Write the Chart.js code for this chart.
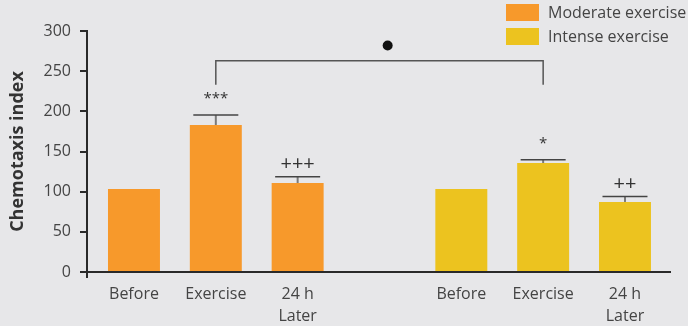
<!DOCTYPE html>
<html>
<head>
<meta charset="utf-8">
<script src="https://cdn.jsdelivr.net/npm/chart.js@4"></script>
<style>
  html, body { margin: 0; padding: 0; background: #E7E7E9; }
  #wrap { width: 688px; height: 326px; position: relative; }
</style>
</head>
<body>
<div id="wrap"><canvas id="c" width="688" height="326"></canvas></div>
<script>
// Time points for each exercise group (slot 3 is the gap between groups)
const categories = [['Before'], ['Exercise'], ['24 h', 'Later'], [''], ['Before'], ['Exercise'], ['24 h', 'Later']];
const moderateSlots = [0, 1, 2];
const intenseSlots = [4, 5, 6];

// Chemotaxis index (mean) and upper error (SEM)
const moderateValues = [103.3, 183, 110.8];
const moderateErrors = [0, 12.4, 7.8];
const intenseValues = [103.3, 135.7, 87.2];
const intenseErrors = [0, 4.1, 6.7];

// Significance marks above each bar
const moderateMarks = ['', '***', '+++'];
const intenseMarks = ['', '*', '++'];

// Between-group comparison bracket (Exercise vs Exercise)
const bracketFrom = 1, bracketTo = 5, bracketTop = 263, bracketFoot = 233;
const bracketMarker = { x: 3.1, y: 282 };

const yTicks = [0, 50, 100, 150, 200, 250, 300];

const ORANGE = '#F7992B';
const YELLOW = '#ECC31F';
const TEXT = '#444444';
const FONT = "'Open Sans', 'Noto Sans', sans-serif";

const toPoints = (slots, vals) => slots.map((s, i) => ({ x: s, y: vals[i] }));

const annotations = {
  id: 'annotations',
  afterDatasetsDraw(chart) {
    const { ctx, chartArea, scales: { x, y } } = chart;
    ctx.save();

    // small extension of the value axis below the baseline
    ctx.strokeStyle = '#2a2a2a';
    ctx.lineWidth = 2;
    ctx.beginPath();
    ctx.moveTo(chartArea.left, chartArea.bottom);
    ctx.lineTo(chartArea.left, chartArea.bottom + 6);
    ctx.stroke();

    const groups = [
      [moderateSlots, moderateValues, moderateErrors, moderateMarks],
      [intenseSlots, intenseValues, intenseErrors, intenseMarks]
    ];
    groups.forEach(([slots, vals, errs, marks]) => {
      slots.forEach((s, i) => {
        const cx = x.getPixelForValue(s);
        const top = y.getPixelForValue(vals[i]);
        const capY = y.getPixelForValue(vals[i] + errs[i]);
        if (errs[i] > 0) {
          ctx.strokeStyle = '#7a7a7a';
          ctx.lineWidth = 2;
          ctx.beginPath();
          ctx.moveTo(cx, top);
          ctx.lineTo(cx, capY);
          ctx.stroke();
          ctx.strokeStyle = '#444';
          ctx.lineWidth = 1.6;
          ctx.beginPath();
          ctx.moveTo(cx - 22.5, capY);
          ctx.lineTo(cx + 22.5, capY);
          ctx.stroke();
        }
        if (marks[i]) {
          const isStar = marks[i][0] === '*';
          ctx.fillStyle = '#333';
          ctx.font = (isStar ? 15 : 20) + 'px ' + FONT;
          ctx.textAlign = 'center';
          ctx.textBaseline = 'middle';
          ctx.fillText(marks[i], cx, capY - (isStar ? 16 : 12));
        }
      });
    });

    // comparison bracket
    const x1 = x.getPixelForValue(bracketFrom);
    const x2 = x.getPixelForValue(bracketTo);
    const yt = y.getPixelForValue(bracketTop);
    const yf = y.getPixelForValue(bracketFoot);
    ctx.strokeStyle = '#555';
    ctx.lineWidth = 1.5;
    ctx.beginPath();
    ctx.moveTo(x1, yf);
    ctx.lineTo(x1, yt);
    ctx.lineTo(x2, yt);
    ctx.lineTo(x2, yf);
    ctx.stroke();
    ctx.fillStyle = '#111';
    ctx.beginPath();
    ctx.arc(x.getPixelForValue(bracketMarker.x), y.getPixelForValue(bracketMarker.y), 5, 0, Math.PI * 2);
    ctx.fill();

    // legend
    ctx.font = '16px ' + FONT;
    ctx.textAlign = 'left';
    ctx.textBaseline = 'middle';
    chart.data.datasets.forEach((ds, i) => {
      const top = 4 + i * 24;
      ctx.fillStyle = ds.backgroundColor;
      ctx.fillRect(506, top, 33, 17);
      ctx.fillStyle = TEXT;
      ctx.fillText(ds.label, 548, top + 9);
    });
    ctx.restore();
  }
};

new Chart(document.getElementById('c'), {
  type: 'bar',
  data: {
    datasets: [
      { label: 'Moderate exercise', data: toPoints(moderateSlots, moderateValues), backgroundColor: ORANGE, grouped: false },
      { label: 'Intense exercise', data: toPoints(intenseSlots, intenseValues), backgroundColor: YELLOW, grouped: false }
    ]
  },
  options: {
    responsive: false,
    animation: false,
    devicePixelRatio: 1,
    categoryPercentage: 1,
    barPercentage: 0.635,
    layout: { padding: { left: 0, top: 31, right: 18, bottom: 0 } },
    plugins: { legend: { display: false }, tooltip: { enabled: false } },
    scales: {
      x: {
        type: 'linear',
        offset: false,
        min: -0.574,
        max: 6.55,
        afterBuildTicks(scale) {
          scale.ticks = [0, 1, 2, 4, 5, 6].map(v => ({ value: v }));
        },
        afterFit(scale) { scale.height = 54; },
        grid: { display: false, drawTicks: false, offset: false },
        border: { color: '#2a2a2a', width: 2 },
        ticks: {
          autoSkip: false,
          maxRotation: 0,
          padding: 12,
          color: TEXT,
          font: { family: FONT, size: 16, lineHeight: 1.35 },
          callback: (v) => categories[Math.round(v)]
        }
      },
      y: {
        min: 0,
        max: 300,
        afterBuildTicks(scale) {
          scale.ticks = yTicks.map(v => ({ value: v }));
        },
        afterFit(scale) { scale.width = 87; },
        grid: { drawOnChartArea: false, tickLength: 7, color: '#2a2a2a', lineWidth: 2 },
        border: { color: '#2a2a2a', width: 2 },
        ticks: { padding: 9, color: TEXT, font: { family: FONT, size: 16 } },
        title: {
          display: true,
          text: 'Chemotaxis index',
          color: '#333',
          padding: { top: 7, bottom: 0 },
          font: { family: FONT, size: 18, weight: 'bold' }
        }
      }
    }
  },
  plugins: [annotations]
});
</script>
</body>
</html>
